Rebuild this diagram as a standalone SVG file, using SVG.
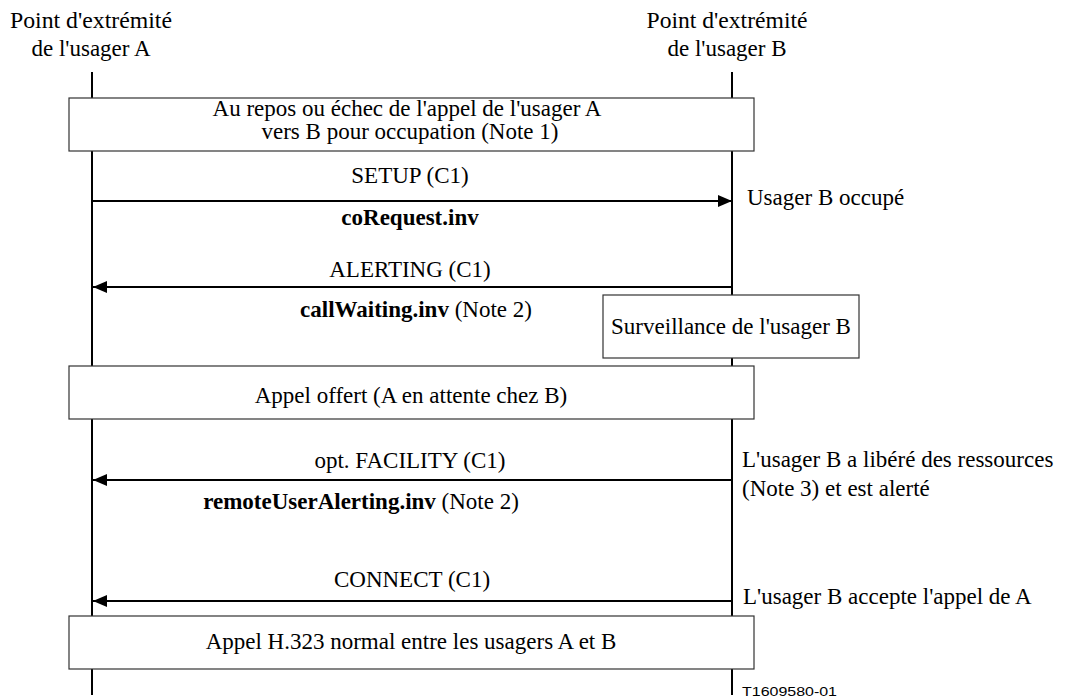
<svg xmlns="http://www.w3.org/2000/svg" width="1069" height="700" viewBox="0 0 1069 700">
  <style>
    text { font-family: "Liberation Serif", "Times New Roman", serif; font-size: 23px; fill: #000; }
    .c { text-anchor: middle; }
    .b { font-weight: bold; }
    .life { stroke: #000; stroke-width: 2; fill: none; }
    .msg { stroke: #000; stroke-width: 2; fill: none; }
    .box { fill: #fff; stroke: #333; stroke-width: 1.2; }
    .ref { font-family: "Liberation Sans", Arial, sans-serif; font-size: 13px; }
  </style>
  <defs>
    <marker id="arrow" viewBox="0 0 14 12" refX="14" refY="6" markerWidth="14" markerHeight="12" markerUnits="userSpaceOnUse" orient="auto">
      <path d="M0,0 L14,6 L0,12 Z" fill="#000"/>
    </marker>
  </defs>

  <rect width="1069" height="700" fill="#fff"/>

  <!-- endpoint headers -->
  <g id="endpoint-a">
    <text class="c" x="91" y="28" textLength="162" lengthAdjust="spacingAndGlyphs">Point d'extrémité</text>
    <text class="c" x="91" y="56">de l'usager A</text>
  </g>
  <g id="endpoint-b">
    <text class="c" x="727" y="28" textLength="161" lengthAdjust="spacingAndGlyphs">Point d'extrémité</text>
    <text class="c" x="727" y="56">de l'usager B</text>
  </g>

  <!-- lifelines -->
  <g id="lifelines">
    <line class="life" x1="92" y1="72" x2="92" y2="695"/>
    <line class="life" x1="732" y1="72" x2="732" y2="695"/>
  </g>

  <!-- messages -->
  <g id="connectors">
    <line class="msg" x1="92" y1="201" x2="732" y2="201" marker-end="url(#arrow)"/>
    <line class="msg" x1="732" y1="287" x2="93" y2="287" marker-end="url(#arrow)"/>
    <line class="msg" x1="732" y1="480" x2="93" y2="480" marker-end="url(#arrow)"/>
    <line class="msg" x1="732" y1="601" x2="93" y2="601" marker-end="url(#arrow)"/>
  </g>

  <g id="state-idle">
    <rect class="box" x="69" y="98" width="685" height="53"/>
    <text class="c" x="407" y="116">Au repos ou échec de l'appel de l'usager A</text>
    <text class="c" x="410" y="139">vers B pour occupation (Note 1)</text>
  </g>

  <g id="msg-setup">
    <text class="c" x="410" y="183">SETUP (C1)</text>
    <text class="c b" x="410" y="225">coRequest.inv</text>
  </g>
  <g id="note-busy">
    <text x="747" y="205">Usager B occupé</text>
  </g>

  <g id="msg-alerting">
    <text class="c" x="410" y="277">ALERTING (C1)</text>
    <text class="c" x="416" y="317"><tspan class="b">callWaiting.inv</tspan> (Note 2)</text>
  </g>

  <g id="monitor-b">
    <rect class="box" x="603" y="295" width="256" height="63"/>
    <text class="c" x="731" y="334">Surveillance de l'usager B</text>
  </g>

  <g id="state-offered">
    <rect class="box" x="69" y="366" width="685" height="53"/>
    <text class="c" x="411" y="403">Appel offert (A en attente chez B)</text>
  </g>

  <g id="msg-facility">
    <text class="c" x="410" y="468">opt. FACILITY (C1)</text>
    <text class="c" x="361" y="509"><tspan class="b">remoteUserAlerting.inv</tspan> (Note 2)</text>
  </g>
  <g id="note-alerted">
    <text x="742" y="467">L'usager B a libéré des ressources</text>
    <text x="742" y="496">(Note 3) et est alerté</text>
  </g>

  <g id="msg-connect">
    <text class="c" x="412" y="587">CONNECT (C1)</text>
  </g>
  <g id="note-accept">
    <text x="743" y="604">L'usager B accepte l'appel de A</text>
  </g>

  <g id="state-call">
    <rect class="box" x="69" y="616" width="685" height="53"/>
    <text class="c" x="411" y="649">Appel H.323 normal entre les usagers A et B</text>
  </g>

  <text class="ref" x="742" y="696" textLength="95" lengthAdjust="spacingAndGlyphs">T1609580-01</text>
</svg>
